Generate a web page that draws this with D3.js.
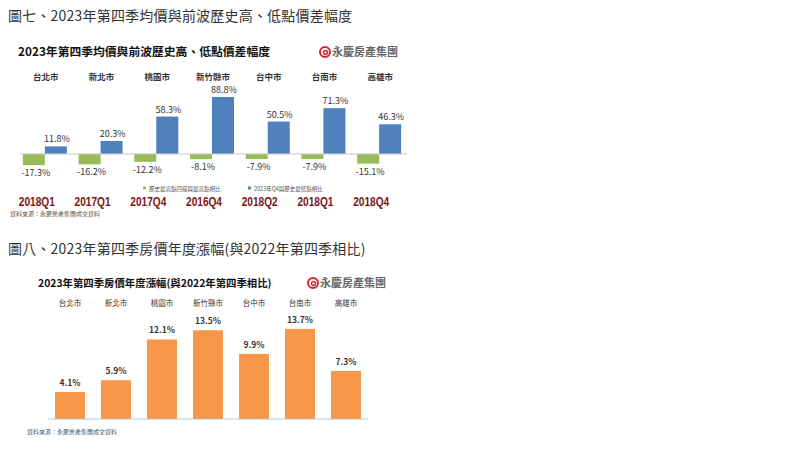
<!DOCTYPE html>
<html lang="zh-Hant">
  <head>
    <meta charset="utf-8">
    <title>房價漲幅</title>
    <script src="https://cdn.jsdelivr.net/npm/d3@7"></script>
    <style>
      body { margin: 0; background: #fff; }
      text { font-family: "Noto Sans CJK TC", "Noto Sans", sans-serif; }
      text.quarter { font-family: "Liberation Sans", Arial, sans-serif; }
    </style>
  </head>
  <body>
    <script>
      var cities = ["台北市", "新北市", "桃園市", "新竹縣市", "台中市", "台南市", "高雄市"];
      var fromHigh = [-17.3, -16.2, -12.2, -8.1, -7.9, -7.9, -15.1];
      var fromLow = [11.8, 20.3, 58.3, 88.8, 50.5, 71.3, 46.3];
      var lowQuarter = ["2018Q1", "2017Q1", "2017Q4", "2016Q4", "2018Q2", "2018Q1", "2018Q4"];
      var yearGrowth = [4.1, 5.9, 12.1, 13.5, 9.9, 13.7, 7.3];
      var seriesNames = ["歷史最高點回檔與最高點相比", "2023年Q4與歷史最低點相比"];

      var svg = d3.select("body").append("svg")
                  .attr("width", 800)
                  .attr("height", 450);

      var fmt = function(v) { return v.toFixed(1) + "%"; };

      function logo(x, y) {
        var g = svg.append("g").attr("transform", "translate(" + x + "," + y + ")");
        g.append("circle").attr("cx", 5).attr("cy", 0).attr("r", 5)
         .attr("fill", "none").attr("stroke", "#d9262e").attr("stroke-width", 2);
        g.append("circle").attr("cx", 5.5).attr("cy", 0.5).attr("r", 2)
         .attr("fill", "none").attr("stroke", "#d9262e").attr("stroke-width", 1.5);
        g.append("text").attr("x", 12).attr("y", 4)
         .attr("font-size", 11).attr("font-weight", "bold").attr("fill", "#666")
         .text("永慶房產集團");
      }

      // ---------- chart 1 ----------
      svg.append("text").attr("x", 8).attr("y", 21)
         .attr("font-size", 14).attr("fill", "#333").attr("letter-spacing", 0.2)
         .text("圖七、2023年第四季均價與前波歷史高、低點價差幅度");
      svg.append("text").attr("x", 18).attr("y", 56)
         .attr("font-size", 11.8).attr("font-weight", "bold").attr("fill", "#111")
         .text("2023年第四季均價與前波歷史高、低點價差幅度");
      logo(320, 52);

      var x1 = d3.scaleBand().domain(cities).range([17, 407])
                 .paddingInner(0.21).paddingOuter(0.105);
      var sub = d3.scaleBand().domain([0, 1]).range([0, x1.bandwidth()]);
      var y1 = d3.scaleLinear().domain([-20, 100]).range([166.8, 89.8]);

      var g1 = svg.append("g");
      g1.selectAll(".city1").data(cities).enter().append("text")
        .attr("x", d => x1(d) + x1.bandwidth() / 2 + 1)
        .attr("y", 80)
        .attr("text-anchor", "middle").attr("font-size", 8.5).attr("font-weight", "bold").attr("fill", "#333")
        .text(d => d);

      g1.selectAll(".low").data(fromHigh).enter().append("rect")
        .attr("x", (d, i) => x1(cities[i]) + sub(0))
        .attr("y", y1(0))
        .attr("width", sub.bandwidth())
        .attr("height", d => y1(d) - y1(0))
        .attr("fill", "#9bbb59");
      g1.selectAll(".lowlab").data(fromHigh).enter().append("text")
        .attr("x", (d, i) => x1(cities[i]) + sub(0) + sub.bandwidth() / 2 + 2)
        .attr("y", d => y1(d) + 11)
        .attr("text-anchor", "middle").attr("font-size", 9).attr("fill", "#333")
        .text(fmt);

      g1.selectAll(".high").data(fromLow).enter().append("rect")
        .attr("x", (d, i) => x1(cities[i]) + sub(1))
        .attr("y", d => y1(d))
        .attr("width", sub.bandwidth())
        .attr("height", d => y1(0) - y1(d))
        .attr("fill", "#4f81bd");
      g1.selectAll(".highlab").data(fromLow).enter().append("text")
        .attr("x", (d, i) => x1(cities[i]) + sub(1) + sub.bandwidth() / 2 + 1)
        .attr("y", d => y1(d) - 4)
        .attr("text-anchor", "middle").attr("font-size", 9).attr("fill", "#333")
        .text(fmt);

      g1.append("line")
        .attr("x1", 20).attr("x2", 407)
        .attr("y1", y1(0)).attr("y2", y1(0))
        .attr("stroke", "#c8c8c8").attr("stroke-width", 1);

      // legend
      var legendX = [143, 248];
      var legendColor = ["#9bbb59", "#4f81bd"];
      seriesNames.forEach(function(n, i) {
        g1.append("rect").attr("x", legendX[i]).attr("y", 186.5)
          .attr("width", 3).attr("height", 3).attr("fill", legendColor[i]);
        g1.append("text").attr("x", legendX[i] + 6).attr("y", 190.5)
          .attr("font-size", 5.5).attr("fill", "#555").text(n);
      });

      g1.selectAll(".quarter").data(lowQuarter).enter().append("text")
        .attr("class", "quarter")
        .attr("x", (d, i) => x1(cities[i]) + x1.bandwidth() / 2 - 8)
        .attr("y", 206)
        .attr("text-anchor", "middle").attr("font-size", 12.5).attr("font-weight", "bold").attr("fill", "#7a1414")
        .attr("textLength", 36).attr("lengthAdjust", "spacingAndGlyphs")
        .text(d => d);

      svg.append("text").attr("x", 10).attr("y", 216)
         .attr("font-size", 6).attr("fill", "#555")
         .text("資料來源：永慶房產集團成交資料");

      // ---------- chart 2 ----------
      svg.append("text").attr("x", 8).attr("y", 254)
         .attr("font-size", 14).attr("fill", "#333").attr("letter-spacing", 0.2)
         .text("圖八、2023年第四季房價年度漲幅(與2022年第四季相比)");
      svg.append("text").attr("x", 38).attr("y", 287)
         .attr("font-size", 10.4).attr("font-weight", "bold").attr("fill", "#111")
         .text("2023年第四季房價年度漲幅(與2022年第四季相比)");
      logo(308, 283);

      var x2 = d3.scaleBand().domain(cities).range([47, 369])
                 .paddingInner(0.35).paddingOuter(0.175);
      var y2 = d3.scaleLinear().domain([0, 15]).range([419, 320.4]);

      var g2 = svg.append("g");
      g2.selectAll(".city2").data(cities).enter().append("text")
        .attr("x", d => x2(d) + x2.bandwidth() / 2)
        .attr("y", 306)
        .attr("text-anchor", "middle").attr("font-size", 7.5).attr("fill", "#333")
        .text(d => d);

      g2.selectAll(".bar").data(yearGrowth).enter().append("rect")
        .attr("x", (d, i) => x2(cities[i]))
        .attr("y", d => y2(d))
        .attr("width", x2.bandwidth())
        .attr("height", d => y2(0) - y2(d))
        .attr("fill", "#f79646");
      g2.selectAll(".barlab").data(yearGrowth).enter().append("text")
        .attr("x", (d, i) => x2(cities[i]) + x2.bandwidth() / 2)
        .attr("y", d => y2(d) - 6)
        .attr("text-anchor", "middle").attr("font-size", 8.5).attr("font-weight", "bold").attr("fill", "#333")
        .text(fmt);

      g2.append("line")
        .attr("x1", 48).attr("x2", 368)
        .attr("y1", y2(0)).attr("y2", y2(0))
        .attr("stroke", "#b8c4d6").attr("stroke-width", 1);

      svg.append("text").attr("x", 27).attr("y", 434)
         .attr("font-size", 6).attr("fill", "#555")
         .text("資料來源：永慶房產集團成交資料");
    </script>
  </body>
</html>
